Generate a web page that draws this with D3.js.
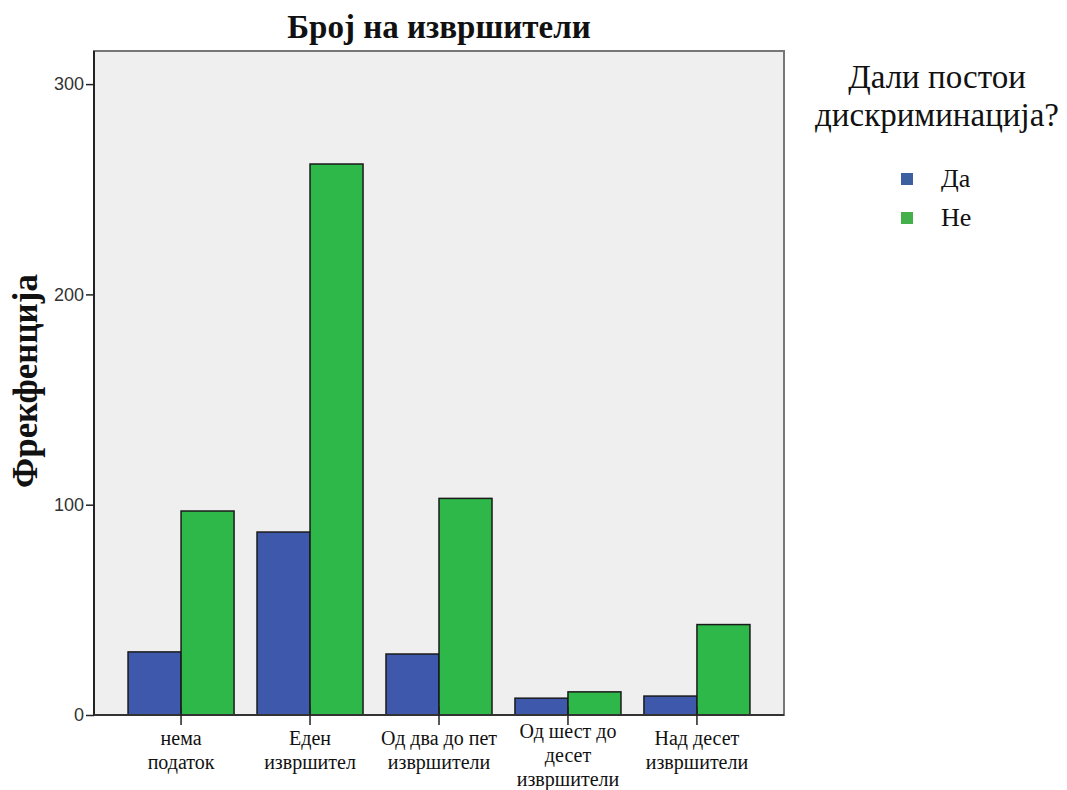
<!DOCTYPE html>
<html>
<head>
<meta charset="utf-8">
<script src="https://cdn.jsdelivr.net/npm/d3@7"></script>
<style>
  body { margin: 0; background: #fff; }
  svg { display: block; }
</style>
</head>
<body>
<div id="chart"></div>
<script>
// Data
const categories = [
    ['нема', 'податок'],
    ['Еден', 'извршител'],
    ['Од два до пет', 'извршители'],
    ['Од шест до', 'десет', 'извршители'],
    ['Над десет', 'извршители']
];
const seriesNames = ['Да', 'Не'];
const daValues = [30, 87, 29, 8, 9];
const neValues = [97, 262, 103, 11, 43];
const yTicks = [0, 100, 200, 300];

const seriesColors = { 'Да': '#3e58ac', 'Не': '#2fb84a' };

// Layout
const W = 1067, H = 790;
const margin = { top: 51, right: 283, bottom: 75, left: 94 };
const width = W - margin.left - margin.right;
const height = H - margin.top - margin.bottom;

const svg = d3.select('#chart').append('svg')
    .attr('width', W)
    .attr('height', H);

const g = svg.append('g')
    .attr('transform', `translate(${margin.left},${margin.top})`);

// Plot background
g.append('rect')
    .attr('width', width)
    .attr('height', height)
    .attr('fill', '#efefef')
    .attr('stroke', '#777')
    .attr('stroke-width', 2);

// Scales
const catIdx = d3.range(categories.length);
const x = d3.scaleBand()
    .domain(catIdx)
    .range([0, width])
    .paddingInner(0.178)
    .paddingOuter(0.264);

const x1 = d3.scaleBand()
    .domain(seriesNames)
    .range([0, x.bandwidth()]);

const y = d3.scaleLinear()
    .domain([0, 300])
    .range([height, height - 300 * 2.103]);

// Bars
const rows = catIdx.map(i => ({ i, values: [
    { key: 'Да', v: daValues[i] },
    { key: 'Не', v: neValues[i] }
] }));

g.selectAll('.grp')
    .data(rows)
    .enter()
    .append('g')
    .attr('class', 'grp')
    .attr('transform', d => `translate(${x(d.i)},0)`)
    .selectAll('rect')
    .data(d => d.values)
    .enter()
    .append('rect')
    .attr('x', d => x1(d.key))
    .attr('y', d => y(d.v))
    .attr('width', x1.bandwidth())
    .attr('height', d => height - y(d.v))
    .attr('fill', d => seriesColors[d.key])
    .attr('stroke', '#1a1a1a')
    .attr('stroke-width', 1.5);

// Left axis line (dark)
g.append('line')
    .attr('x1', 0).attr('x2', 0)
    .attr('y1', 0).attr('y2', height)
    .attr('stroke', '#222')
    .attr('stroke-width', 2);

// Bottom axis line
g.append('line')
    .attr('x1', 0).attr('x2', width)
    .attr('y1', height).attr('y2', height)
    .attr('stroke', '#333')
    .attr('stroke-width', 2);

// Y axis ticks
const yAxis = g.append('g')
    .call(d3.axisLeft(y).tickValues(yTicks).tickSize(8).tickSizeOuter(0).tickPadding(2));
yAxis.select('.domain').remove();
yAxis.selectAll('line').attr('stroke', '#222').attr('stroke-width', 1.5);
yAxis.selectAll('text')
    .style('font-family', '"Liberation Sans", Arial, sans-serif')
    .style('font-size', '18px')
    .style('fill', '#333');

// X axis ticks (at group centres)
g.selectAll('.xtick')
    .data(catIdx)
    .enter()
    .append('line')
    .attr('x1', d => x(d) + x.bandwidth() / 2)
    .attr('x2', d => x(d) + x.bandwidth() / 2)
    .attr('y1', height - 8)
    .attr('y2', height + 10)
    .attr('stroke', '#222')
    .attr('stroke-width', 1.5);

// X tick labels
const xLabels = g.selectAll('.xlabel')
    .data(catIdx)
    .enter()
    .append('text')
    .attr('class', 'xlabel')
    .attr('text-anchor', 'middle')
    .attr('transform', d => `translate(${x(d) + x.bandwidth() / 2},${height + 30})`)
    .style('font-family', '"Liberation Serif", serif')
    .style('font-size', '20px')
    .style('fill', '#111');

xLabels.each(function(d) {
    const t = d3.select(this);
    categories[d].forEach((line, k) => {
        t.append('tspan')
            .attr('x', 0)
            .attr('dy', k === 0 ? (d === 3 ? -7 : 0) : 24)
            .text(line);
    });
});

// Title
svg.append('text')
    .attr('x', margin.left + width / 2)
    .attr('y', 38)
    .attr('text-anchor', 'middle')
    .style('font-family', '"Liberation Serif", serif')
    .style('font-weight', 'bold')
    .style('font-size', '33px')
    .style('fill', '#111')
    .text('Број на извршители');

// Y axis label
svg.append('text')
    .attr('transform', `translate(37,${margin.top + height / 2 - 2}) rotate(-90)`)
    .attr('text-anchor', 'middle')
    .style('font-family', '"Liberation Serif", serif')
    .style('font-weight', 'bold')
    .style('font-size', '35px')
    .style('fill', '#111')
    .text('Фрекфенција');

// Legend
const legend = svg.append('g')
    .attr('transform', 'translate(937,0)');

legend.append('text')
    .attr('text-anchor', 'middle')
    .attr('y', 88)
    .style('font-family', '"Liberation Serif", serif')
    .style('font-size', '33px')
    .style('fill', '#111')
    .text('Дали постои');

legend.append('text')
    .attr('text-anchor', 'middle')
    .attr('y', 126)
    .style('font-family', '"Liberation Serif", serif')
    .style('font-size', '33px')
    .style('fill', '#111')
    .text('дискриминација?');

const legendItems = legend.selectAll('.li')
    .data(seriesNames)
    .enter()
    .append('g')
    .attr('transform', (d, i) => `translate(0,${178 + i * 39})`);

legendItems.append('rect')
    .attr('x', -36)
    .attr('y', -5)
    .attr('width', 12)
    .attr('height', 12)
    .attr('fill', d => d === 'Да' ? '#3c5f9f' : '#43b04a');

legendItems.append('text')
    .attr('x', 4)
    .attr('y', 9)
    .style('font-family', '"Liberation Serif", serif')
    .style('font-size', '26px')
    .style('fill', '#111')
    .text(d => d);
</script>
</body>
</html>
